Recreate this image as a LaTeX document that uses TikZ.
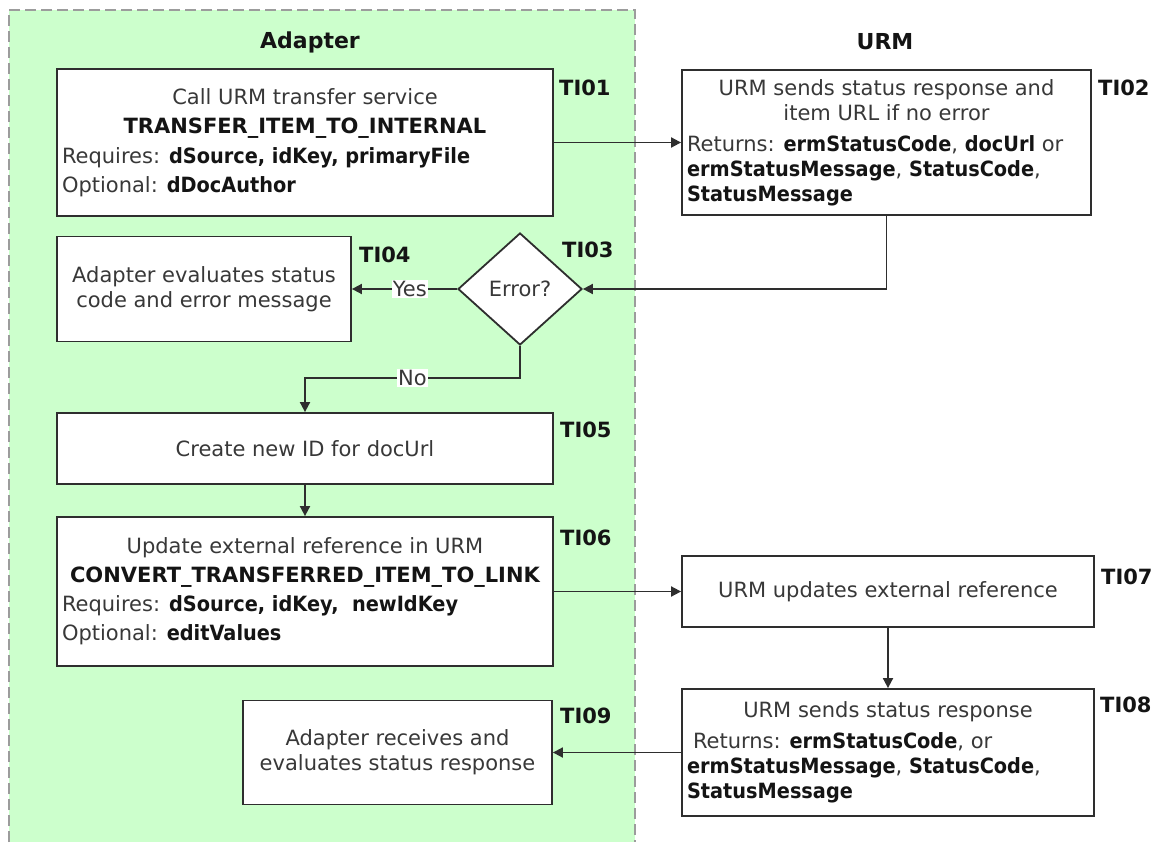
\documentclass[tikz,border=0pt]{standalone}
\usepackage{fontspec}
\setmainfont{DejaVu Sans}
\newfontfamily\kwfont{DejaVu Sans}[FakeStretch=0.92]
\usetikzlibrary{arrows.meta,shapes.geometric}

\definecolor{lanefill}{HTML}{CCFFCC}
\definecolor{laneline}{HTML}{9C9C9C}
\definecolor{frame}{HTML}{2E2E2E}
\definecolor{ink}{HTML}{383838}
\definecolor{strong}{HTML}{141414}

% parameter names and service names
\newcommand\kw[1]{{\kwfont\bfseries\color{strong}#1}}
\newcommand\hd[1]{{\bfseries\color{strong}#1}}
% a line centred across a box of the given inner width
\newcommand\midline[2]{\makebox[#1][c]{#2}}

\begin{document}
\begin{tikzpicture}[x=1pt,y=-1pt,
  every node/.style={font=\fontsize{21}{25}\selectfont, text=ink},
  stepbox/.style={draw=frame, line width=1.8pt, fill=white,
    inner xsep=5pt, inner ysep=0pt, align=left},
  plainbox/.style={stepbox, align=center},
  test/.style={shape=diamond, draw=frame, line width=1.8pt, fill=white,
    inner sep=0pt, minimum width=124pt, minimum height=112pt},
  tag/.style={anchor=west, inner sep=0pt,
    font=\fontsize{21}{25}\selectfont\bfseries, text=strong},
  lanetitle/.style={inner sep=0pt,
    font=\fontsize{22}{26}\selectfont\bfseries, text=strong},
  flow/.style={draw=frame, line width=1.8pt, -{Triangle[length=10pt,width=10pt]}},
  choice/.style={fill=white, inner sep=1pt},
]
\useasboundingbox (0,0) rectangle (1159,843);

% Adapter swim lane
\fill[lanefill] (9,10) rectangle (635,842);
\draw[laneline, line width=1.6pt, dash pattern=on 11pt off 5pt]
  (9,842) -- (9,10) -- (635,10) -- (635,842);

\node[lanetitle] (adaptertitle) at (310,42) {Adapter};
\node[lanetitle] (urmtitle) at (885,42) {URM};

% steps
\node[stepbox, minimum width=496pt, minimum height=147pt] (ti01) at (305,142.5) {%
  \midline{486pt}{Call URM transfer service}\\[4pt]
  \midline{486pt}{\hd{TRANSFER\_ITEM\_TO\_INTERNAL}}\\[5pt]
  Requires: \kw{dSource, idKey, primaryFile}\\[4pt]
  Optional: \kw{dDocAuthor}};

\node[stepbox, minimum width=409pt, minimum height=145pt] (ti02) at (886.5,142.5) {%
  \midline{399pt}{URM sends status response and}\\
  \midline{399pt}{item URL if no error}\\[6pt]
  Returns: \kw{ermStatusCode}, \kw{docUrl} or\\
  \kw{ermStatusMessage}, \kw{StatusCode},\\
  \kw{StatusMessage}};

\node[test] (dec) at (520,289) {Error?};

\node[plainbox, minimum width=294pt, minimum height=105pt] (ti04) at (204,289) {%
  Adapter evaluates status\\code and error message};

\node[plainbox, minimum width=496pt, minimum height=71pt] (ti05) at (305,448.5) {%
  Create new ID for docUrl};

\node[stepbox, minimum width=496pt, minimum height=149pt] (ti06) at (305,591.5) {%
  \midline{486pt}{Update external reference in URM}\\[4pt]
  \midline{486pt}{\hd{CONVERT\_TRANSFERRED\_ITEM\_TO\_LINK}}\\[4pt]
  Requires: \kw{dSource, idKey,\ \ newIdKey}\\[4pt]
  Optional: \kw{editValues}};

\node[plainbox, minimum width=412pt, minimum height=71pt] (ti07) at (888,591.5) {%
  URM updates external reference};

\node[stepbox, minimum width=412pt, minimum height=127pt] (ti08) at (888,752.5) {%
  \midline{402pt}{URM sends status response}\\[6pt]
  \hspace*{6pt}Returns: \kw{ermStatusCode}, or\\
  \kw{ermStatusMessage}, \kw{StatusCode},\\
  \kw{StatusMessage}};

\node[plainbox, minimum width=309pt, minimum height=104pt] (ti09) at (397.5,752.5) {%
  Adapter receives and\\evaluates status response};

% step tags
\node[tag] (tagti01) at (559,88) {TI01};
\node[tag] (tagti02) at (1098,88) {TI02};
\node[tag] (tagti03) at (562,250) {TI03};
\node[tag] (tagti04) at (359,255) {TI04};
\node[tag] (tagti05) at (560,430) {TI05};
\node[tag] (tagti06) at (560,538) {TI06};
\node[tag] (tagti07) at (1101,577) {TI07};
\node[tag] (tagti08) at (1100,705) {TI08};
\node[tag] (tagti09) at (560,716) {TI09};

% flow
\draw[flow] (ti01.east) -- (ti02.west);
\draw[flow] (ti02.south) |- (dec.east);
\draw[flow] (dec.west) -- node[choice, pos=0.45] {Yes} (ti04.east);
\draw[flow] (dec.south) -- ++(0,32) -| node[choice, pos=0.25] {No} (ti05.north);
\draw[flow] (ti05.south) -- (ti06.north);
\draw[flow] (ti06.east) -- (ti07.west);
\draw[flow] (ti07.south) -- (ti08.north);
\draw[flow] (ti08.west) -- (ti09.east);
\end{tikzpicture}
\end{document}
